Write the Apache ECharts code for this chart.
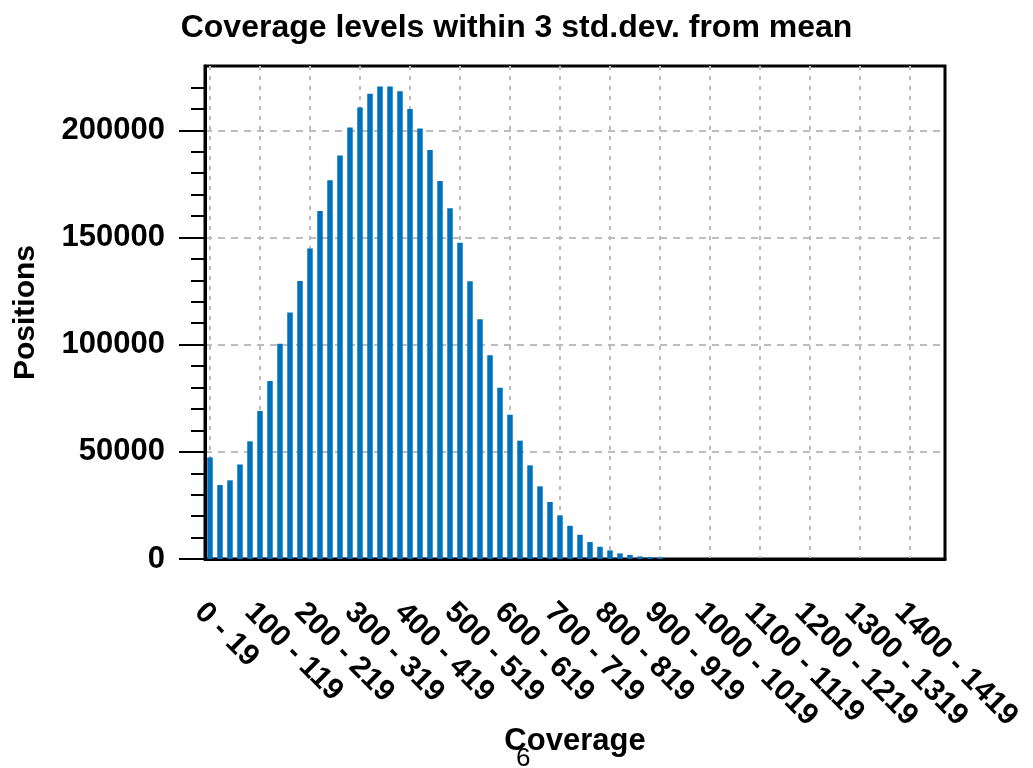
<!DOCTYPE html>
<html>
<head>
<meta charset="utf-8">
<script src="https://cdn.jsdelivr.net/npm/echarts@6/dist/echarts.min.js"></script>
<style>html,body{margin:0;padding:0;background:#fff}#c{width:1033px;height:768px}</style>
</head>
<body>
<div id="c"></div>
<script>
const categories = [
  "0 - 19","20 - 39","40 - 59","60 - 79","80 - 99",
  "100 - 119","120 - 139","140 - 159","160 - 179","180 - 199",
  "200 - 219","220 - 239","240 - 259","260 - 279","280 - 299",
  "300 - 319","320 - 339","340 - 359","360 - 379","380 - 399",
  "400 - 419","420 - 439","440 - 459","460 - 479","480 - 499",
  "500 - 519","520 - 539","540 - 559","560 - 579","580 - 599",
  "600 - 619","620 - 639","640 - 659","660 - 679","680 - 699",
  "700 - 719","720 - 739","740 - 759","760 - 779","780 - 799",
  "800 - 819","820 - 839","840 - 859","860 - 879","880 - 899",
  "900 - 919","920 - 939","940 - 959","960 - 979","980 - 999",
  "1000 - 1019","1020 - 1039","1040 - 1059","1060 - 1079","1080 - 1099",
  "1100 - 1119","1120 - 1139","1140 - 1159","1160 - 1179","1180 - 1199",
  "1200 - 1219","1220 - 1239","1240 - 1259","1260 - 1279","1280 - 1299",
  "1300 - 1319","1320 - 1339","1340 - 1359","1360 - 1379","1380 - 1399",
  "1400 - 1419","1420 - 1439","1440 - 1459","1460 - 1479"
];
const positions = [
  47400, 34500, 36700, 44100, 54900,
  69000, 83100, 100400, 115000, 129700,
  144800, 162400, 176700, 188300, 201300,
  210600, 217100, 220400, 220400, 218200,
  209900, 200900, 190800, 176400, 163600,
  147500, 129600, 111900, 95100, 79900,
  67300, 55200, 43700, 33900, 26600,
  20400, 15500, 11300, 7900, 5700,
  4000, 2600, 1900, 1200, 900,
  700, 0, 0, 0, 0,
  0, 0, 0, 0, 0,
  0, 0, 0, 0, 0,
  0, 0, 0, 0, 0,
  0, 0, 0, 0, 0,
  0, 0, 0, 0
];
const yMajorTicks = [0, 50000, 100000, 150000, 200000];
const yMinorTicks = [0, 10000, 20000, 30000, 40000, 50000, 60000, 70000, 80000, 90000,
  100000, 110000, 120000, 130000, 140000, 150000, 160000, 170000, 180000, 190000,
  200000, 210000, 220000];

const FONT = 'Liberation Sans';
const chart = echarts.init(document.getElementById('c'), null, {renderer: 'canvas'});
const gridStyle = {color: '#bdbdbd', width: 2};
chart.setOption({
  animation: false,
  backgroundColor: '#fff',
  title: {
    text: 'Coverage levels within 3 std.dev. from mean',
    left: 'center', top: 7,
    textStyle: {fontFamily: FONT, fontWeight: 'bold', fontSize: 32, color: '#000'}
  },
  grid: {left: 205, right: 88, top: 66, bottom: 209, containLabel: false, outerBoundsMode: 'none',
    show: true, borderColor: '#000', borderWidth: 3, backgroundColor: 'transparent'},
  xAxis: {
    type: 'category',
    data: categories,
    boundaryGap: true,
    name: 'Coverage', nameLocation: 'middle', nameGap: 167, nameMoveOverlap: false,
    nameTextStyle: {fontFamily: FONT, fontWeight: 'bold', fontSize: 31, color: '#000'},
    axisLine: {lineStyle: {color: '#000', width: 3}},
    axisTick: {show: false, interval: 4, alignWithLabel: true},
    axisLabel: {interval: 4, rotate: -45, margin: 38, verticalAlign: 'top', fontFamily: FONT, fontWeight: 'bold', fontSize: 30, color: '#000'},
    splitLine: {show: true, interval: 4, alignWithLabel: true, lineStyle: Object.assign({type: [4, 6]}, gridStyle)}
  },
  yAxis: [{
    type: 'value', min: 0, max: 230000, interval: 50000, position: 'left',
    name: 'Positions', nameLocation: 'middle', nameGap: 164, nameRotate: 90,
    nameTextStyle: {fontFamily: FONT, fontWeight: 'bold', fontSize: 30, color: '#000'},
    axisLine: {show: true, lineStyle: {color: '#000', width: 3}},
    axisTick: {show: true, length: 26, customValues: yMajorTicks, lineStyle: {color: '#000', width: 2}},
    axisLabel: {margin: 40, customValues: yMajorTicks, formatter: function (v) { return String(v); },
      fontFamily: FONT, fontWeight: 'bold', fontSize: 31, color: '#000'},
    splitLine: {show: true, lineStyle: Object.assign({type: [7, 6]}, gridStyle)}
  }, {
    type: 'value', min: 0, max: 230000, interval: 10000, position: 'left', offset: 0,
    axisLine: {show: false},
    axisTick: {show: true, length: 14, customValues: yMinorTicks, lineStyle: {color: '#000', width: 2}},
    axisLabel: {show: false},
    splitLine: {show: false}
  }],
  series: [{
    type: 'bar',
    data: positions,
    barWidth: '55%',
    itemStyle: {color: '#0072bd'}
  }],
  graphic: [{
    type: 'text', left: 516, top: 746,
    style: {text: '6', fontFamily: FONT, fontSize: 26, fill: '#000'}
  }]
});
</script>
</body>
</html>
